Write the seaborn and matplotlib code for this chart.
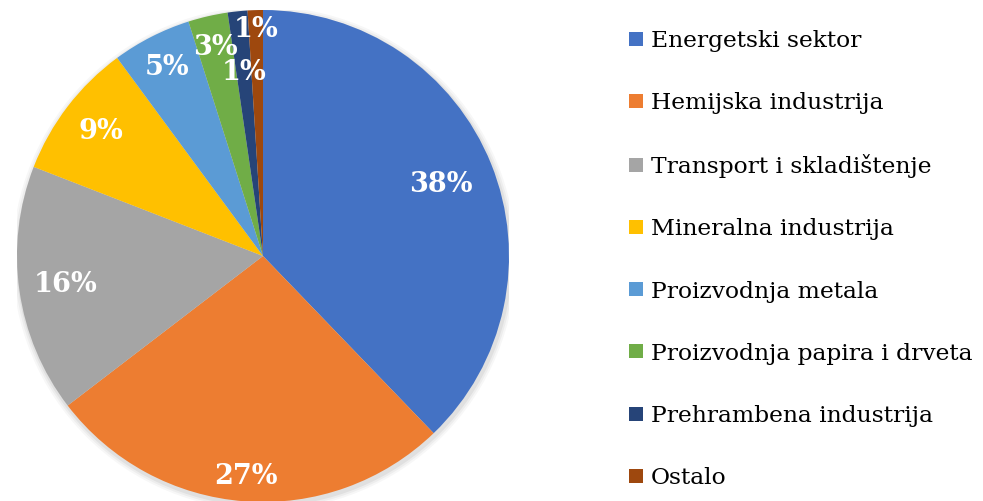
import numpy as np
import matplotlib
matplotlib.use("Agg")
import matplotlib.pyplot as plt
import seaborn as sns
from matplotlib.lines import Line2D

# sectors and their shares (percent)
sectors = ["Energetski sektor", "Hemijska industrija", "Transport i skladištenje",
           "Mineralna industrija", "Proizvodnja metala", "Proizvodnja papira i drveta",
           "Prehrambena industrija", "Ostalo"]
shares = [37.8, 26.8, 16.3, 9.0, 5.2, 2.6, 1.3, 1.0]
colors = ["#4472C4", "#ED7D31", "#A5A5A5", "#FFC000", "#5B9BD5", "#70AD47", "#264478", "#9E480E"]

# how far out each percent label sits (fraction of radius)
label_r = [0.78, 0.90, 0.81, 0.83, 0.86, 0.87, 0.75, 0.92]

sns.set_theme(style="white")
plt.rcParams['font.family'] = ['DejaVu Serif', 'Liberation Serif']

fig = plt.figure(figsize=(9.83, 5.01), dpi=100)
R = 246
cx, cy = 263, 256
ax = fig.add_axes([(cx - R) / 983, (501 - cy - R) / 501, 2 * R / 983, 2 * R / 501])

palette = sns.color_palette(colors)
# soft shadow behind the pie
for i, a in enumerate([0.05, 0.04, 0.03]):
    ax.add_patch(plt.Circle((0.005, -0.01), 1.0 + 0.008 * (i + 1), color='black', alpha=a, lw=0))
wedges, texts = ax.pie(shares, colors=palette, startangle=90, counterclock=False,
                       wedgeprops=dict(linewidth=0))
ax.set_xlim(-1, 1)
ax.set_ylim(-1, 1)
ax.set_aspect('equal')
ax.axis('off')

for w, v, r in zip(wedges, shares, label_r):
    mid = np.deg2rad((w.theta1 + w.theta2) / 2)
    ax.text(r * np.cos(mid), r * np.sin(mid), f"{v:.0f}%", ha='center', va='center',
            color='white', fontsize=19.5, fontweight='bold')

handles = [Line2D([0], [0], marker='s', linestyle='none', markersize=9.5,
                  markerfacecolor=c, markeredgewidth=0) for c in palette]
leg = fig.legend(handles, sectors, loc='upper left', bbox_to_anchor=(629 / 983, 1 - 30 / 501),
                 frameon=False, fontsize=16.8, labelspacing=1.72, handlelength=0.6,
                 handletextpad=0.35, borderpad=0, borderaxespad=0)
for t in leg.get_texts():
    t.set_color('black')

fig.savefig("out.png", dpi=100)
